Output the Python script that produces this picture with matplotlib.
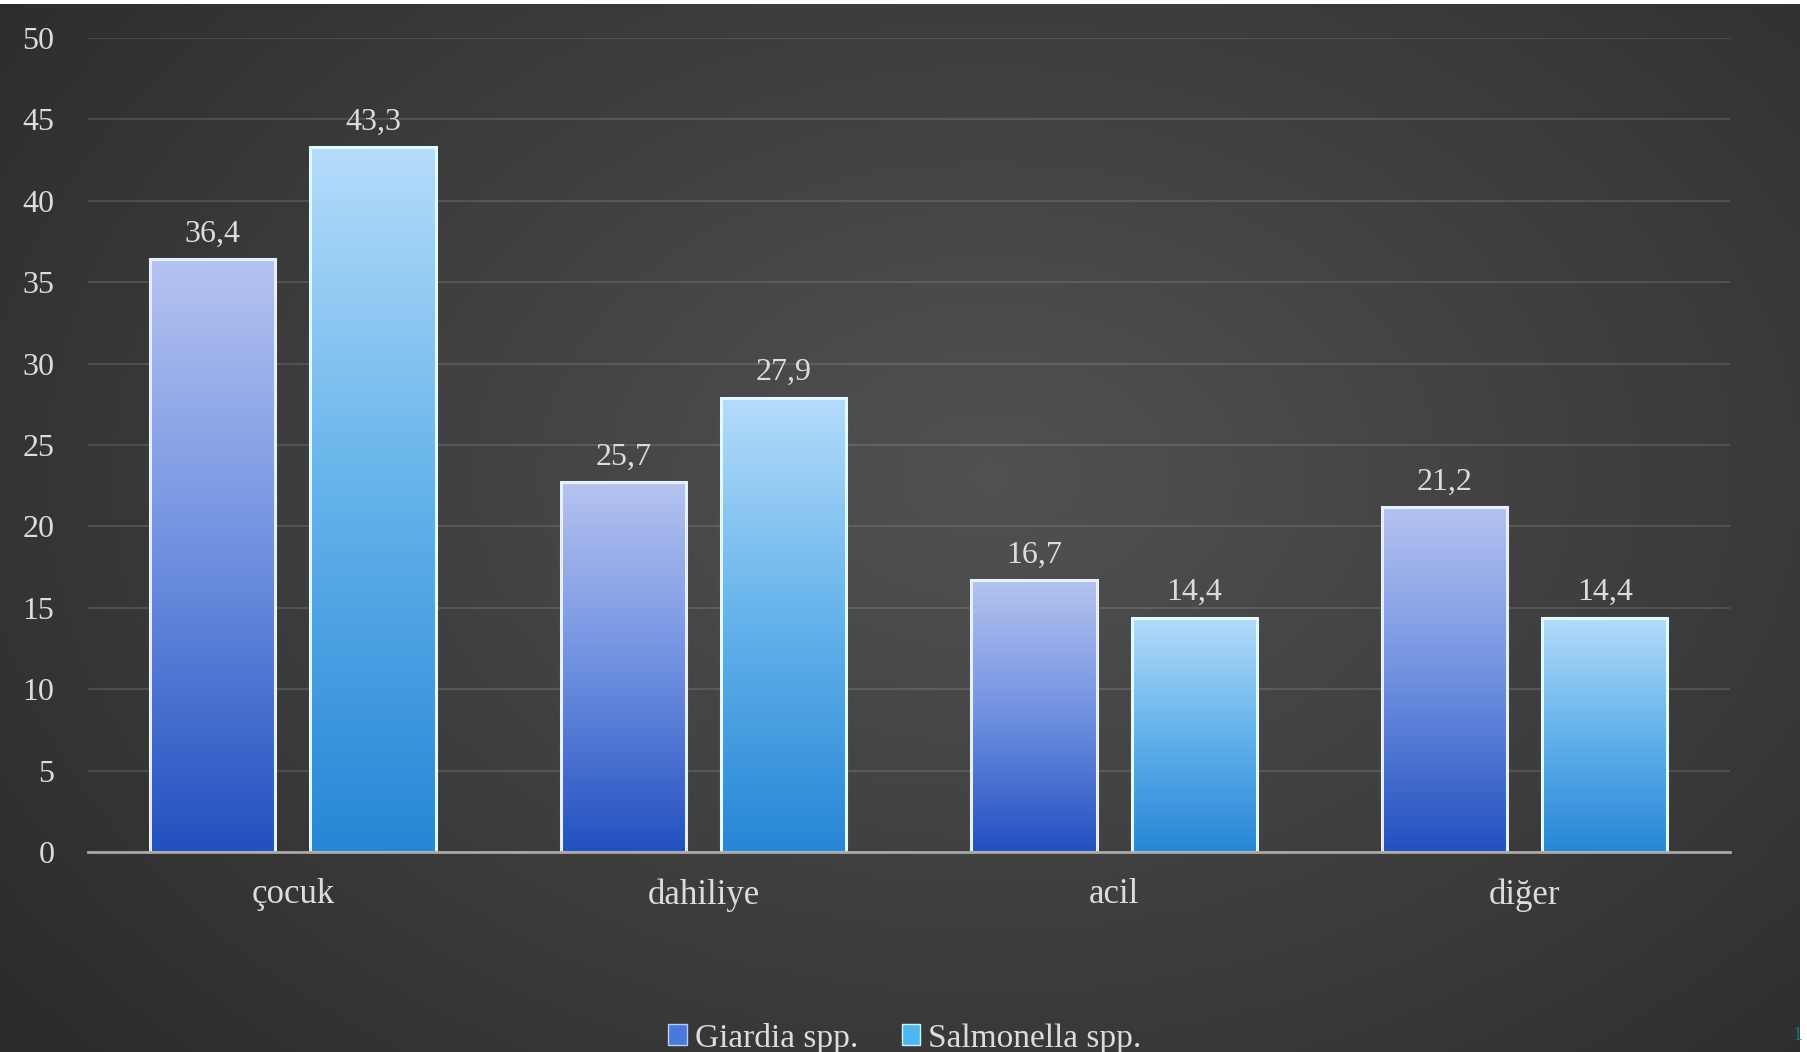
import numpy as np
import matplotlib.pyplot as plt
from matplotlib.colors import LinearSegmentedColormap
from matplotlib.patches import Patch

# data
categories = ["çocuk", "dahiliye", "acil", "diğer"]
series_names = ["Giardia spp.", "Salmonella spp."]
giardia = [36.4, 22.7, 16.7, 21.2]
salmonella = [43.3, 27.9, 14.4, 14.4]
giardia_labels = ["36,4", "25,7", "16,7", "21,2"]
salmonella_labels = ["43,3", "27,9", "14,4", "14,4"]
yticks = [0, 5, 10, 15, 20, 25, 30, 35, 40, 45, 50]

plt.rcParams['font.family'] = ['Liberation Serif', 'DejaVu Serif']
txt_color = "#dcdcdc"

fig = plt.figure(figsize=(18.08, 10.52), dpi=100)
fig.patch.set_facecolor("white")

# dark radial background (leaves thin white strip at top and right)
bg = fig.add_axes([0, 0, 1800 / 1808, 1048 / 1052])
bg.set_axis_off()
yy, xx = np.mgrid[0:1:300j, 0:1:500j]
d = np.sqrt(((xx - 0.55) / 0.75) ** 2 + ((yy - 0.45) / 0.9) ** 2)
shade = np.clip(0.32 - 0.16 * d, 0.15, 0.33)
bg.imshow(np.dstack([shade, shade, shade]), extent=[0, 1, 0, 1], aspect="auto")
bg.set_xlim(0, 1)
bg.set_ylim(0, 1)

ax = fig.add_axes([87.6 / 1808, 1 - 852 / 1052, (1730 - 87.6) / 1808, (852 - 38) / 1052])
ax.patch.set_alpha(0)

x = np.arange(len(categories))
w = 0.305
off = 0.195

cm_g = LinearSegmentedColormap.from_list("g", ["#2250bf", "#6f90e0", "#b5c3f0"])
cm_s = LinearSegmentedColormap.from_list("s", ["#2786d6", "#62b2ea", "#b5dcfa"])
grad = np.linspace(1, 0, 256).reshape(-1, 1)

bars_g = ax.bar(x - off, giardia, w, facecolor="none", edgecolor="#e6efff", linewidth=2.2, zorder=3)
bars_s = ax.bar(x + off, salmonella, w, facecolor="none", edgecolor="#e0fbff", linewidth=2.2, zorder=3)

for bars, cmap, labels in [(bars_g, cm_g, giardia_labels), (bars_s, cm_s, salmonella_labels)]:
    for rect, lab in zip(bars, labels):
        x0, bw, h = rect.get_x(), rect.get_width(), rect.get_height()
        ax.imshow(grad, extent=[x0, x0 + bw, 0, h], cmap=cmap, aspect="auto", zorder=2)
        ax.annotate(lab, (x0 + bw / 2, h), xytext=(0, 18), textcoords="offset points",
                    ha="center", va="center", fontsize=23, color=txt_color)

ax.set_xlim(-0.5, len(categories) - 0.5)
ax.set_ylim(0, 50)
ax.set_yticks(yticks)
ax.set_yticklabels([str(t) for t in yticks])
ax.set_xticks(x)
ax.set_xticklabels(categories)
ax.tick_params(axis="y", length=0, pad=24, labelsize=23, labelcolor=txt_color)
ax.tick_params(axis="x", length=0, pad=19, labelsize=25, labelcolor=txt_color)
ax.grid(axis="y", color="white", alpha=0.12, linewidth=1.5, zorder=0)
ax.set_axisbelow(True)
for s in ["top", "right", "left"]:
    ax.spines[s].set_visible(False)
ax.spines["bottom"].set_color("#a8a8a8")
ax.spines["bottom"].set_linewidth(2)
ax.spines["bottom"].set_zorder(4)

handles = [Patch(facecolor="#4a78dc", edgecolor="#b8ccf8", linewidth=1),
           Patch(facecolor="#4fb6ee", edgecolor="#c8f6ff", linewidth=1)]
fig.legend(handles, series_names, loc="center", bbox_to_anchor=(905 / 1808, 1 - 1038 / 1052),
           ncol=2, frameon=False, fontsize=24, labelcolor=txt_color,
           handlelength=0.55, handleheight=0.6, handletextpad=0.25, columnspacing=1.3)

fig.text(1797 / 1808, 1 - 1035 / 1052, "1", color="#1d6d84", fontsize=14, ha="center", va="center")

fig.savefig("out.png", dpi=100)
